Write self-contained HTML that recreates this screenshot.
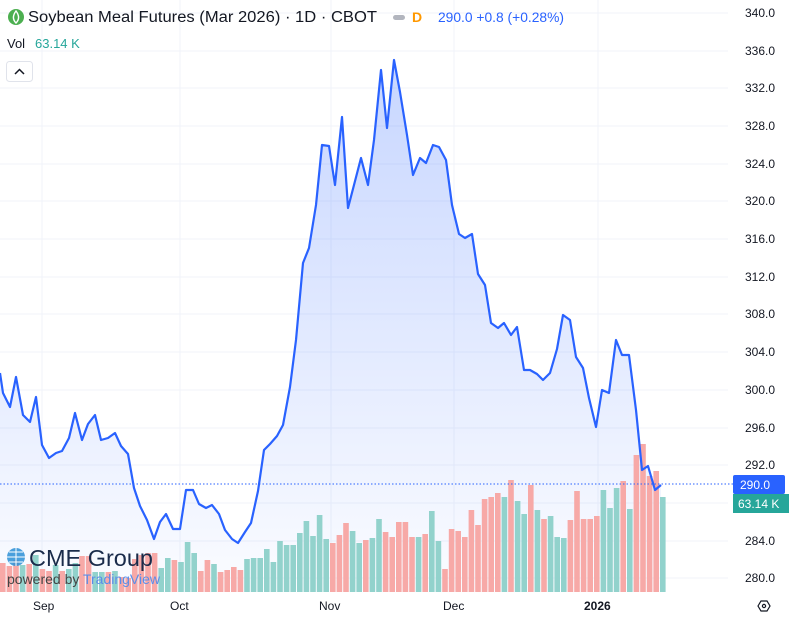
<!DOCTYPE html>
<html><head><meta charset="utf-8"><style>
body{margin:0;background:#fff;width:791px;height:621px;overflow:hidden;font-family:"Liberation Sans",sans-serif}
</style></head><body>
<svg width="791" height="621" viewBox="0 0 791 621" xmlns="http://www.w3.org/2000/svg" font-family="Liberation Sans, sans-serif">
<defs>
<linearGradient id="g" x1="0" y1="0" x2="0" y2="1"><stop offset="0" stop-color="#2962ff" stop-opacity="0.26"/><stop offset="1" stop-color="#2962ff" stop-opacity="0.02"/></linearGradient>
</defs>
<g stroke="#f0f3fa" stroke-width="1">
<line x1="42" y1="0" x2="42" y2="592"/><line x1="180" y1="0" x2="180" y2="592"/><line x1="331" y1="0" x2="331" y2="592"/><line x1="454" y1="0" x2="454" y2="592"/><line x1="598" y1="0" x2="598" y2="592"/>
<line x1="0" y1="13" x2="728" y2="13"/><line x1="0" y1="51" x2="728" y2="51"/><line x1="0" y1="88" x2="728" y2="88"/><line x1="0" y1="126" x2="728" y2="126"/><line x1="0" y1="164" x2="728" y2="164"/><line x1="0" y1="201" x2="728" y2="201"/><line x1="0" y1="239" x2="728" y2="239"/><line x1="0" y1="277" x2="728" y2="277"/><line x1="0" y1="314" x2="728" y2="314"/><line x1="0" y1="352" x2="728" y2="352"/><line x1="0" y1="390" x2="728" y2="390"/><line x1="0" y1="428" x2="728" y2="428"/><line x1="0" y1="465" x2="728" y2="465"/><line x1="0" y1="503" x2="728" y2="503"/><line x1="0" y1="541" x2="728" y2="541"/><line x1="0" y1="578" x2="728" y2="578"/>
</g>
<path id="ln" fill="url(#g)" d="M0,373 L3,393 L10,407 L16,377 L23,415 L30,422 L36,397 L42,445 L49,458 L56,453 L62,451 L69,438 L75,413 L82,440 L88,424 L95,415 L101,440 L108,438 L115,433 L121,446 L128,454 L134,488 L140,506 L147,520 L154,539 L160,522 L166,514 L173,529 L180,529 L186,490 L193,490 L199,504 L206,508 L212,505 L219,514 L225,530 L232,539 L238,543 L245,532 L251,523 L258,491 L264,450 L270,444 L277,436 L283,425 L290,387 L296,340 L303,263 L309,248 L316,205 L322,145 L329,146 L335,185 L342,117 L348,208 L354,185 L361,158 L368,185 L374,140 L381,70 L387,128 L394,60 L400,92 L407,135 L413,175 L420,158 L426,163 L433,145 L439,147 L446,160 L452,205 L459,234 L465,238 L472,234 L478,274 L485,285 L491,323 L498,328 L504,323 L511,335 L517,327 L524,370 L530,370 L537,374 L543,380 L550,373 L557,349 L563,315 L570,320 L576,357 L583,368 L589,398 L596,427 L602,390 L609,393 L616,340 L622,355 L629,355 L636,410 L642,470 L648,466 L655,490 L661,485 L661,592 L0,592 Z"/>
<g id="bars"></g>
<polyline id="pl" fill="none" stroke="#2962ff" stroke-width="2.2" stroke-linejoin="round" points=""/>
<line x1="0" y1="484" x2="733" y2="484" stroke="#2962ff" stroke-width="1" stroke-dasharray="1.5 2"/>
<g font-size="12" fill="#131722">
<text x="745" y="17">340.0</text><text x="745" y="55">336.0</text><text x="745" y="92">332.0</text><text x="745" y="130">328.0</text><text x="745" y="168">324.0</text><text x="745" y="205">320.0</text><text x="745" y="243">316.0</text><text x="745" y="281">312.0</text><text x="745" y="318">308.0</text><text x="745" y="356">304.0</text><text x="745" y="394">300.0</text><text x="745" y="432">296.0</text><text x="745" y="469">292.0</text><text x="745" y="545">284.0</text><text x="745" y="582">280.0</text>
</g>
<rect x="733" y="475" width="52" height="19" rx="2" fill="#2962ff"/><text x="740" y="489" font-size="12" fill="#fff">290.0</text>
<rect x="733" y="494" width="56" height="19" fill="#26a69a"/><text x="738" y="508" font-size="12" fill="#fff">63.14 K</text>
<g font-size="12" fill="#131722"><text x="33" y="610">Sep</text><text x="170" y="610">Oct</text><text x="319" y="610">Nov</text><text x="443" y="610">Dec</text><text x="584" y="610" font-weight="bold">2026</text></g>
<polygon points="758,606 761,601 767,601 770,606 767,611 761,611" fill="none" stroke="#131722" stroke-width="1.2"/><circle cx="764" cy="606" r="1.6" fill="none" stroke="#131722" stroke-width="1.2"/>
<circle cx="16" cy="17" r="8" fill="#4caf50"/><path d="M16,11 C13,15 12,19 16,23 C20,19 19,15 16,11Z" fill="none" stroke="#fff" stroke-width="1.4"/>
<text x="28" y="22" font-size="15.5" fill="#131722" textLength="349" lengthAdjust="spacingAndGlyphs">Soybean Meal Futures (Mar 2026) · 1D · CBOT</text>
<rect x="393" y="15" width="12" height="5" rx="2.5" fill="#b2b5be"/>
<text x="412" y="22" font-size="14" fill="#ff9800" font-weight="bold">D</text>
<text x="438" y="22" font-size="14" fill="#2962ff" textLength="126" lengthAdjust="spacingAndGlyphs">290.0 +0.8 (+0.28%)</text>
<text x="7" y="48" font-size="13" fill="#131722">Vol</text><text x="35" y="48" font-size="13" fill="#26a69a">63.14 K</text>
<rect x="6.5" y="61.5" width="26" height="20" rx="3" fill="#fff" stroke="#e0e3eb"/><path d="M15,74 L19.5,69.5 L24,74" fill="none" stroke="#131722" stroke-width="1.5"/>
<circle cx="16" cy="557" r="9" fill="#2c8fd6" opacity="0.85"/><path d="M7,557 H25 M16,548 V566 M9,552 H23 M9,562 H23" stroke="#fff" stroke-width="1"/>
<text x="29" y="566" font-size="23" fill="#1a2b4a" textLength="124" lengthAdjust="spacingAndGlyphs">CME Group</text>
<text x="7" y="584" font-size="14" fill="#444" textLength="153" lengthAdjust="spacingAndGlyphs">powered by <tspan fill="#5b8de8">TradingView</tspan></text>
</svg>
<script>
var reds=[1,1,1,0,1,0,1,1,0,1,0,0,1,1,0,0,1,0,1,1,1,1,1,1,0,0,1,0,0,0,1,1,0,1,1,1,1,0,0,0,0,0,0,0,0,0,0,0,0,0,1,1,1,0,0,1,0,0,1,1,
1,1,1,0,1,0,0,1,1,1,1,1,1,1,1,1,0,1,0,0,1,0,1,0,0,0,1,1,1,1,1,0,0,0,1,0,1,1,1,1,0];
var tops=[563,566,560,565,564,555,569,571,565,571,569,563,556,556,572,572,572,571,577,578,559,555,553,553,568,558,560,562,542,553,571,560,564,572,570,567,570,559,558,558,549,562,541,545,545,533,521,536,515,539,543,535,523,531,543,540,538,519,532,537,
522,522,537,537,534,511,541,569,529,531,537,510,525,499,497,493,497,480,501,514,485,510,519,516,537,538,520,491,519,519,516,490,508,488,481,509,455,444,476,471,497];
var s="";for(var i=0;i<tops.length;i++){var x=i*6.6;var c=reds[i]?"#f7a9a7":"#92d2cc";s+='<rect x="'+x.toFixed(1)+'" y="'+tops[i]+'" width="5.6" height="'+(592-tops[i])+'" fill="'+c+'"/>';}
document.getElementById("bars").innerHTML=s;
var d=document.getElementById("ln").getAttribute("d");var pts=d.replace(/ L661,592 L0,592 Z/,"").replace("M","").split(" L").join(" ");
document.getElementById("pl").setAttribute("points",pts);
</script>
</body></html>
